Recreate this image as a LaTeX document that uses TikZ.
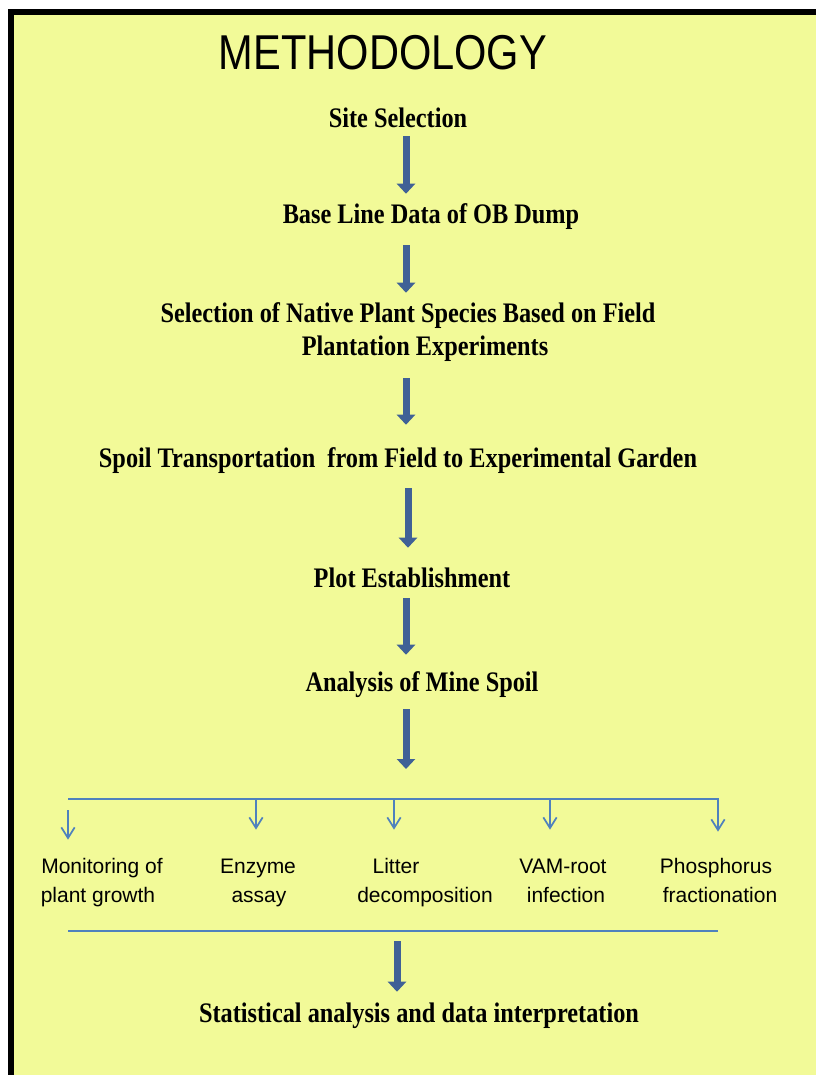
\documentclass[tikz,border=0pt]{standalone}
\usepackage{fontspec}
\setmainfont{Liberation Serif}
\newfontfamily\titlefont{Liberation Sans}[FakeStretch=0.85]
\newfontfamily\stepfont{Liberation Serif}[FakeStretch=0.86]
\newfontfamily\labfont{Liberation Sans}
\usetikzlibrary{arrows.meta}
\definecolor{bgyellow}{RGB}{242,250,152}
\definecolor{arrowblue}{RGB}{64,97,150}
\definecolor{lineblue}{RGB}{79,129,189}
\begin{document}
\begin{tikzpicture}[x=0.75pt,y=-0.75pt,
 title/.style={inner sep=0pt, font=\titlefont\fontsize{36.7}{40}\selectfont, text height=26.3pt, text depth=0pt},
 stepbox/.style={inner sep=0pt, font=\stepfont\bfseries\fontsize{21.2}{24}\selectfont, text height=14pt, text depth=0pt},
 lab/.style={inner sep=0pt, font=\labfont\fontsize{15.75}{19}\selectfont, text height=11.3pt, text depth=0pt},
 blockarrow/.style={draw=arrowblue, line width=5.25pt, -{Triangle[length=7.5pt,width=13.5pt]}},
 thinarrow/.style={draw=lineblue, line width=1.3pt, -{Straight Barb[length=8pt,width=10pt]}},
 busline/.style={draw=lineblue, line width=1.3pt}]
\useasboundingbox (0,0) rectangle (816,1075);
\fill[white] (0,0) rectangle (816,1075);
\fill[black] (8,9) rectangle (816,1075);
\fill[bgyellow] (13.5,15) rectangle (816,1075);

\node[title] (title) at (383,52) {METHODOLOGY};
\node[stepbox] (site) at (398,118) {Site Selection};
\node[stepbox] (base) at (431,214) {Base Line Data of OB Dump};
\node[stepbox] (sel1) at (408,313) {Selection of Native Plant Species Based on Field};
\node[stepbox] (sel2) at (425,346) {Plantation Experiments};
\node[stepbox] (spoil) at (398,458) {Spoil Transportation\ \ from Field to Experimental Garden};
\node[stepbox] (plot) at (412,578) {Plot Establishment};
\node[stepbox] (mine) at (422,682) {Analysis of Mine Spoil};
\node[stepbox] (stat) at (419,1013) {Statistical analysis and data interpretation};

\coordinate (ax) at (406,0);
\coordinate (ax4) at (408,0);
\coordinate (ax7) at (397,0);
\coordinate (bus) at (406,799);
\coordinate (bot) at (397,931);

\draw[blockarrow, shorten <=6.5pt, shorten >=8pt] (site.south -| ax) -- (base.north -| ax);
\draw[blockarrow, shorten <=16.25pt, shorten >=8pt] (base.south -| ax) -- (sel1.north -| ax);
\draw[blockarrow, shorten <=17pt, shorten >=17.75pt] (sel2.south -| ax) -- (spoil.north -| ax);
\draw[blockarrow, shorten <=15.5pt, shorten >=15.5pt] (spoil.south -| ax4) -- (plot.north -| ax4);
\draw[blockarrow, shorten <=8pt, shorten >=13.25pt] (plot.south -| ax) -- (mine.north -| ax);
\draw[blockarrow, shorten <=13.25pt, shorten >=22.5pt] (mine.south -| ax) -- (bus);
\draw[blockarrow, shorten <=7.5pt, shorten >=8.75pt] (bot) -- (stat.north -| ax7);

\node[lab] (m1) at (102,866) {Monitoring of};
\node[lab] (m2) at (98,895) {plant growth};
\node[lab] (e1) at (258,866) {Enzyme};
\node[lab] (e2) at (259,895) {assay};
\node[lab] (l1) at (396,866) {Litter};
\node[lab] (l2) at (425,895) {decomposition};
\node[lab] (v1) at (563,866) {VAM-root};
\node[lab] (v2) at (566,895) {infection};
\node[lab] (p1) at (716,866) {Phosphorus};
\node[lab] (p2) at (720,895) {fractionation};

\coordinate (busL) at (68,799);
\coordinate (busE) at (256,799);
\coordinate (busLi) at (394,799);
\coordinate (busV) at (550,799);
\coordinate (busR) at (718,799);
\coordinate (botL) at (68,931);
\coordinate (botR) at (718,931);

\draw[thinarrow, shorten >=19.9pt] (busL) -- (busR) -- (p1.north -| busR);
\draw[thinarrow, shorten <=8.25pt, shorten >=13.9pt] (busL) -- (m1.north -| busL);
\draw[thinarrow, shorten >=21.4pt] (busE) -- (e1.north -| busE);
\draw[thinarrow, shorten >=21.4pt] (busLi) -- (l1.north -| busLi);
\draw[thinarrow, shorten >=21.4pt] (busV) -- (v1.north -| busV);
\draw[busline] (botL) -- (botR);
\end{tikzpicture}
\end{document}
